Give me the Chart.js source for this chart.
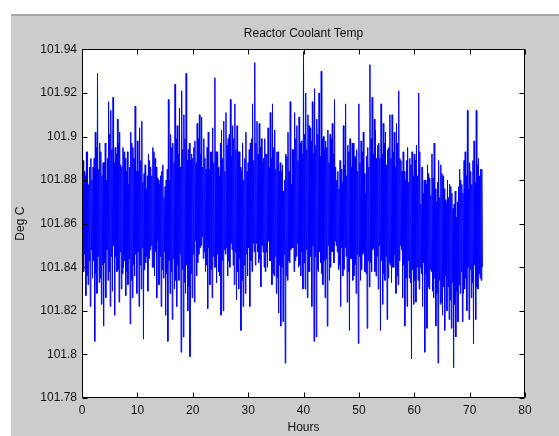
<!DOCTYPE html>
<html>
<head>
<meta charset="utf-8">
<script src="https://cdn.jsdelivr.net/npm/chart.js@4.4.1/dist/chart.umd.min.js"></script>
<style>
  html,body{margin:0;padding:0;background:#ffffff;width:559px;height:436px;overflow:hidden;}
  #bg{position:absolute;left:11px;top:14px;width:548px;height:422px;background:#cccccc;border-top:2px solid #a4a4a4;box-sizing:border-box;}
  #wrap{position:absolute;left:11px;top:14px;width:548px;height:422px;}
</style>
</head>
<body>
<div id="bg"></div>
<div id="wrap"><canvas id="c"></canvas></div>
<script>
// ---- Data (dense trace, ~0.4 h per column, 4 readings per column) ----
const chartTitle = "Reactor Coolant Temp";
const xAxisTitle = "Hours";
const yAxisTitle = "Deg C";
const startHour = 0;
const hourStep = 0.4;

// upper excursions per column
const highTemp = [
  101.896,101.884,101.893,101.878,101.890,101.886,101.902,101.929,101.897,101.882,
  101.888,101.880,101.916,101.912,101.918,101.895,101.908,101.902,101.886,101.893,
  101.884,101.878,101.902,101.895,101.914,101.898,101.904,101.907,101.883,101.876,
  101.892,101.886,101.895,101.890,101.881,101.878,101.884,101.872,101.880,101.917,
  101.901,101.897,101.924,101.905,101.913,101.921,101.910,101.929,101.894,101.889,
  101.890,101.898,101.906,101.910,101.909,101.899,101.885,101.902,101.893,101.904,
  101.927,101.893,101.882,101.903,101.907,101.911,101.899,101.917,101.905,101.915,
  101.905,101.893,101.884,101.880,101.902,101.888,101.897,101.915,101.934,101.907,
  101.906,101.899,101.890,101.892,101.904,101.911,101.915,101.903,101.893,101.884,
  101.884,101.875,101.892,101.902,101.916,101.894,101.911,101.905,101.909,101.898,
  101.939,101.920,101.910,101.904,101.916,101.922,101.908,101.920,101.930,101.900,
  101.898,101.903,101.901,101.906,101.917,101.880,101.876,101.885,101.905,101.915,
  101.896,101.899,101.897,101.891,101.894,101.915,101.898,101.902,101.874,101.895,
  101.933,101.918,101.908,101.890,101.897,101.915,101.906,101.902,101.894,101.910,
  101.910,101.902,101.906,101.921,101.889,101.893,101.880,101.895,101.890,101.893,
  101.892,101.896,101.920,101.869,101.874,101.880,101.887,101.881,101.892,101.897,
  101.870,101.889,101.887,101.882,101.871,101.880,101.878,101.874,101.869,101.863,
  101.877,101.880,101.874,101.893,101.912,101.888,101.878,101.898,101.912,101.890,101.885
];
// lower excursions per column
const lowTemp = [
  101.838,101.827,101.832,101.822,101.835,101.806,101.828,101.833,101.823,101.813,
  101.826,101.834,101.822,101.829,101.818,101.838,101.824,101.830,101.840,101.827,
  101.832,101.814,101.826,101.836,101.828,101.822,101.830,101.807,101.842,101.829,
  101.848,101.840,101.836,101.826,101.832,101.822,101.835,101.818,101.806,101.828,
  101.816,101.830,101.822,101.834,101.801,101.808,101.828,101.820,101.799,101.826,
  101.824,101.836,101.846,101.850,101.844,101.838,101.821,101.832,101.826,101.840,
  101.833,101.838,101.818,101.820,101.846,101.836,101.840,101.848,101.832,101.825,
  101.830,101.811,101.822,101.828,101.836,101.822,101.838,101.847,101.851,101.842,
  101.831,101.847,101.838,101.840,101.843,101.832,101.836,101.828,101.819,101.813,
  101.815,101.796,101.834,101.842,101.849,101.838,101.845,101.840,101.836,101.830,
  101.830,101.826,101.838,101.822,101.806,101.808,101.838,101.842,101.832,101.826,
  101.813,101.834,101.847,101.842,101.850,101.839,101.822,101.836,101.849,101.824,
  101.811,101.844,101.836,101.828,101.805,101.834,101.846,101.838,101.812,101.831,
  101.838,101.849,101.836,101.830,101.811,101.823,101.834,101.816,101.842,101.833,
  101.840,101.828,101.832,101.850,101.826,101.813,101.822,101.835,101.798,101.823,
  101.824,101.834,101.840,101.822,101.801,101.812,101.830,101.838,101.826,101.813,
  101.796,101.823,101.818,101.811,101.820,101.816,101.812,101.794,101.808,101.815,
  101.828,101.815,101.830,101.820,101.816,101.826,101.805,101.816,101.830,101.835,101.840
];
// secondary (in-band) upper readings per column
const midHighTemp = [
  101.889,101.882,101.893,101.886,101.880, 101.890,101.895,101.885,101.893,101.888,
  101.897,101.890,101.901,101.894,101.888, 101.892,101.897,101.887,101.895,101.890,
  101.893,101.886,101.897,101.890,101.884, 101.884,101.889,101.879,101.887,101.882,
  101.889,101.882,101.893,101.886,101.880, 101.882,101.887,101.877,101.885,101.880,
  101.895,101.888,101.899,101.892,101.886, 101.894,101.899,101.889,101.897,101.892,
  101.895,101.888,101.899,101.892,101.886, 101.890,101.895,101.885,101.893,101.888,
  101.893,101.886,101.897,101.890,101.884, 101.896,101.901,101.891,101.899,101.894,
  101.893,101.886,101.897,101.890,101.884, 101.894,101.899,101.889,101.897,101.892,
  101.895,101.888,101.899,101.892,101.886, 101.890,101.895,101.885,101.893,101.888,
  101.887,101.880,101.891,101.884,101.878, 101.894,101.899,101.889,101.897,101.892,
  101.901,101.894,101.905,101.898,101.892, 101.896,101.901,101.891,101.899,101.894,
  101.895,101.888,101.899,101.892,101.886, 101.884,101.889,101.879,101.887,101.882,
  101.893,101.886,101.897,101.890,101.884, 101.888,101.893,101.883,101.891,101.886,
  101.899,101.892,101.903,101.896,101.890, 101.892,101.897,101.887,101.895,101.890,
  101.893,101.886,101.897,101.890,101.884, 101.884,101.889,101.879,101.887,101.882,
  101.889,101.882,101.893,101.886,101.880, 101.878,101.883,101.873,101.881,101.876,
  101.879,101.872,101.883,101.876,101.870, 101.872,101.877,101.867,101.875,101.870,
  101.885,101.878,101.889,101.882,101.876, 101.884,101.889,101.879,101.887,101.882, 101.885
];
// secondary (in-band) lower readings per column
const midLowTemp = [
  101.840,101.846,101.836,101.843,101.848, 101.843,101.837,101.845,101.835,101.841,
  101.842,101.848,101.838,101.845,101.850, 101.845,101.839,101.847,101.837,101.843,
  101.838,101.844,101.834,101.841,101.846, 101.847,101.841,101.849,101.839,101.845,
  101.844,101.850,101.840,101.847,101.852, 101.845,101.839,101.847,101.837,101.843,
  101.838,101.844,101.834,101.841,101.846, 101.839,101.833,101.841,101.831,101.837,
  101.846,101.852,101.842,101.849,101.854, 101.847,101.841,101.849,101.839,101.845,
  101.840,101.846,101.836,101.843,101.848, 101.849,101.843,101.851,101.841,101.847,
  101.838,101.844,101.834,101.841,101.846, 101.849,101.843,101.851,101.841,101.847,
  101.844,101.850,101.840,101.847,101.852, 101.843,101.837,101.845,101.835,101.841,
  101.840,101.846,101.836,101.843,101.848, 101.849,101.843,101.851,101.841,101.847,
  101.842,101.848,101.838,101.845,101.850, 101.845,101.839,101.847,101.837,101.843,
  101.844,101.850,101.840,101.847,101.852, 101.847,101.841,101.849,101.839,101.845,
  101.838,101.844,101.834,101.841,101.846, 101.845,101.839,101.847,101.837,101.843,
  101.842,101.848,101.838,101.845,101.850, 101.843,101.837,101.845,101.835,101.841,
  101.840,101.846,101.836,101.843,101.848, 101.841,101.835,101.843,101.833,101.839,
  101.834,101.840,101.830,101.837,101.842, 101.837,101.831,101.839,101.829,101.835,
  101.828,101.834,101.824,101.831,101.836, 101.831,101.825,101.833,101.823,101.829,
  101.832,101.838,101.828,101.835,101.840, 101.839,101.833,101.841,101.831,101.837, 101.834
];

const xTickValues = [0,10,20,30,40,50,60,70,80];
const yTickValues = [101.78,101.80,101.82,101.84,101.86,101.88,101.90,101.92,101.94];
const yTickLabels = ["101.78","101.8","101.82","101.84","101.86","101.88","101.9","101.92","101.94"];

// build the trace: each column runs high -> mid low -> mid high -> low
const trace = [];
for (let i = 0; i < highTemp.length; i++) {
  const h = startHour + i * hourStep;
  const q = hourStep / 4;
  trace.push({x: h,         y: highTemp[i]});
  trace.push({x: h + q,     y: midLowTemp[i]});
  trace.push({x: h + 2 * q, y: midHighTemp[i]});
  trace.push({x: h + 3 * q, y: lowTemp[i]});
}

const FONT = "'Liberation Sans', Arial, Helvetica, sans-serif";

const plotDeco = {
  id: 'plotDeco',
  beforeDraw(chart) {
    const {ctx, chartArea: a} = chart;
    ctx.save();
    ctx.fillStyle = '#ffffff';
    ctx.fillRect(a.left, a.top, a.right - a.left, a.bottom - a.top);
    ctx.restore();
  },
  afterDraw(chart) {
    const {ctx, chartArea: a, scales} = chart;
    const L = Math.round(a.left) + 0.5, R = Math.round(a.right) - 0.5;
    const T = Math.round(a.top) + 0.5, B = Math.round(a.bottom) - 0.5;
    ctx.save();
    ctx.strokeStyle = '#000000';
    ctx.lineWidth = 1;
    ctx.beginPath();
    ctx.rect(L, T, R - L, B - T);
    const tl = 5;
    xTickValues.forEach(v => {
      const px = Math.round(scales.x.getPixelForValue(v)) + 0.5;
      ctx.moveTo(px, B); ctx.lineTo(px, B - tl);
      ctx.moveTo(px, T); ctx.lineTo(px, T + tl);
    });
    yTickValues.forEach(v => {
      const py = Math.round(scales.y.getPixelForValue(v)) + 0.5;
      ctx.moveTo(L, py); ctx.lineTo(L + tl, py);
      ctx.moveTo(R, py); ctx.lineTo(R - tl, py);
    });
    ctx.stroke();
    ctx.restore();
  }
};

new Chart(document.getElementById('c'), {
  type: 'line',
  data: {
    datasets: [{
      data: trace,
      borderColor: '#0000ff',
      borderWidth: 1,
      pointRadius: 0,
      tension: 0,
      fill: false
    }]
  },
  options: {
    responsive: true,
    maintainAspectRatio: false,
    animation: false,
    events: [],
    layout: { padding: { left: 0, right: 34, top: 0, bottom: 0 } },
    plugins: {
      legend: { display: false },
      tooltip: { enabled: false },
      title: {
        display: true,
        fullSize: false,
        text: chartTitle,
        color: '#111111',
        font: { family: FONT, size: 12, weight: 'normal', lineHeight: 1.2 },
        padding: { top: 12, bottom: 9 }
      }
    },
    scales: {
      x: {
        type: 'linear',
        min: 0, max: 80,
        afterBuildTicks: (s) => { s.ticks = xTickValues.map(v => ({value: v})); },
        afterFit: (s) => { s.height = 38; },
        grid: { display: false, drawTicks: false },
        border: { display: false },
        ticks: {
          color: '#111111',
          padding: 5,
          maxRotation: 0,
          font: { family: FONT, size: 12 },
          callback: (v) => String(v)
        },
        title: {
          display: true,
          text: xAxisTitle,
          color: '#111111',
          font: { family: FONT, size: 12, lineHeight: 1.2 },
          padding: { top: 0, bottom: 1 }
        }
      },
      y: {
        type: 'linear',
        min: 101.78, max: 101.94,
        afterBuildTicks: (s) => { s.ticks = yTickValues.map(v => ({value: v})); },
        afterFit: (s) => { s.width = 71; },
        grid: { display: false, drawTicks: false },
        border: { display: false },
        ticks: {
          color: '#111111',
          padding: 5,
          font: { family: FONT, size: 12 },
          callback: (v) => {
            const i = yTickValues.findIndex(t => Math.abs(t - v) < 1e-6);
            return i >= 0 ? yTickLabels[i] : '';
          }
        },
        title: {
          display: true,
          text: yAxisTitle,
          color: '#111111',
          font: { family: FONT, size: 12, lineHeight: 1.2 },
          padding: { top: 2, bottom: 0 }
        }
      }
    }
  },
  plugins: [plotDeco]
});
</script>
</body>
</html>
